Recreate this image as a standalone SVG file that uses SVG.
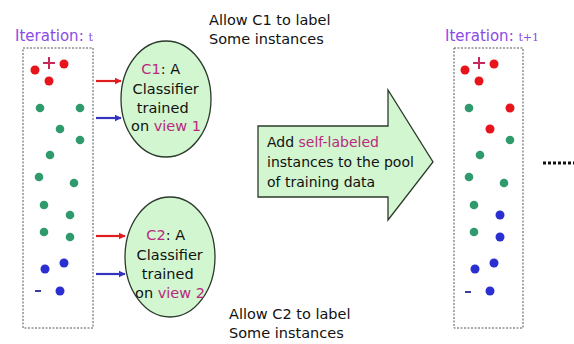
<svg xmlns="http://www.w3.org/2000/svg" width="574" height="344" viewBox="0 0 574 344">
  <defs>
    <style>
      .txt { font-family: "DejaVu Sans", "Liberation Sans", sans-serif; font-size: 14.5px; fill: #111; }
      .txt-sm { font-size: 14px; }
      .iter { font-family: "DejaVu Sans", "Liberation Sans", sans-serif; font-size: 15px; fill: #8a4be6; }
      .iter-small { font-family: "DejaVu Serif", "Liberation Serif", serif; font-size: 11px; }
      .hl { fill: #b8297f; }
      .box { fill: #fff; stroke: #555; stroke-width: 1; stroke-dasharray: 2 1.5; }
      .green-shape { fill: #d2f6cf; stroke: #2b3a2b; stroke-width: 1.3; }
      .r { fill: #e8141c; }
      .g { fill: #2f9a6c; }
      .b { fill: #2b2fd2; }
      .sign { stroke-width: 2; fill: none; }
      .ar-red { stroke: #e01c1c; stroke-width: 2.2; fill: none; }
      .ar-blue { stroke: #3434c0; stroke-width: 2.2; fill: none; }
    </style>
    <marker id="headRed" viewBox="0 0 10 10" refX="9" refY="5" markerWidth="3.2" markerHeight="3.2" orient="auto">
      <path d="M0,0 L10,5 L0,10 z" fill="#e01c1c"/>
    </marker>
    <marker id="headBlue" viewBox="0 0 10 10" refX="9" refY="5" markerWidth="3.2" markerHeight="3.2" orient="auto">
      <path d="M0,0 L10,5 L0,10 z" fill="#3434c0"/>
    </marker>
    <!-- one set of labelled points; reused for both iterations -->
    <g id="commonDots">
      <circle class="r" cx="35" cy="70" r="4.5"/>
      <circle class="r" cx="64" cy="64" r="4.5"/>
      <circle class="r" cx="49" cy="81" r="4.5"/>
      <circle class="g" cx="50" cy="155" r="4.3"/>
      <circle class="g" cx="39" cy="177" r="4.3"/>
      <circle class="g" cx="74" cy="183" r="4.3"/>
      <circle class="g" cx="44" cy="205" r="4.3"/>
      <circle class="g" cx="44" cy="232" r="4.3"/>
      <circle class="b" cx="45" cy="269" r="4.5"/>
      <circle class="b" cx="64" cy="263" r="4.5"/>
      <circle class="b" cx="60" cy="291" r="4.5"/>
    </g>
  </defs>

  <!-- iteration t: labelled and unlabelled points -->
  <g id="iteration-t">
    <text class="iter" x="15" y="41">Iteration: <tspan class="iter-small">t</tspan></text>
    <rect class="box" x="23" y="48" width="70" height="280"/>
    <use href="#commonDots"/>
    <circle class="g" cx="40" cy="108" r="4.3"/>
    <circle class="g" cx="80" cy="108" r="4.3"/>
    <circle class="g" cx="60" cy="129" r="4.3"/>
    <circle class="g" cx="80" cy="140" r="4.3"/>
    <circle class="g" cx="70" cy="215" r="4.3"/>
    <circle class="g" cx="70" cy="237" r="4.3"/>
    <path class="sign" stroke="#c8285a" d="M43,63 H55 M49,57 V69"/>
    <path class="sign" stroke="#3c3c9c" d="M35,291 H41"/>
  </g>

  <!-- classifier trained on the first view -->
  <g id="classifier-c1">
    <ellipse class="green-shape" cx="166" cy="99" rx="45" ry="58"/>
    <text class="txt" text-anchor="middle">
      <tspan x="163" y="74"><tspan class="hl">C1</tspan>: A</tspan>
      <tspan x="168" y="94">Classifier</tspan>
      <tspan x="165" y="113">trained</tspan>
      <tspan x="166" y="131">on <tspan class="hl">view 1</tspan></tspan>
    </text>
  </g>

  <!-- classifier trained on the second view -->
  <g id="classifier-c2">
    <ellipse class="green-shape" cx="170" cy="257" rx="45" ry="60"/>
    <text class="txt" text-anchor="middle">
      <tspan x="168" y="240"><tspan class="hl">C2</tspan>: A</tspan>
      <tspan x="172" y="260">Classifier</tspan>
      <tspan x="170" y="279">trained</tspan>
      <tspan x="170" y="298">on <tspan class="hl">view 2</tspan></tspan>
    </text>
  </g>

  <g id="note-c1">
    <text class="txt"><tspan x="209" y="25">Allow C1 to label</tspan><tspan x="209" y="44">Some instances</tspan></text>
  </g>

  <g id="note-c2">
    <text class="txt"><tspan x="229" y="319">Allow C2 to label</tspan><tspan x="229" y="338">Some instances</tspan></text>
  </g>

  <!-- block arrow: move self-labelled points into the training pool -->
  <g id="add-to-pool">
    <path class="green-shape" d="M258,126 H388 V90 L433,162 L388,220 V197 H258 Z"/>
    <text class="txt txt-sm">
      <tspan x="267" y="147">Add <tspan class="hl">self-labeled</tspan></tspan>
      <tspan x="267" y="167">instances to the pool</tspan>
      <tspan x="267" y="187">of training data</tspan>
    </text>
  </g>

  <!-- iteration t+1: pool grown with newly labelled points -->
  <g id="iteration-t1">
    <text class="iter" x="445" y="41">Iteration: <tspan class="iter-small">t+1</tspan></text>
    <rect class="box" x="454" y="48" width="69" height="280"/>
    <use href="#commonDots" transform="translate(430,0)"/>
    <circle class="g" cx="469" cy="108" r="4.3"/>
    <circle class="r" cx="510" cy="108" r="4.5"/>
    <circle class="r" cx="490" cy="129" r="4.5"/>
    <circle class="g" cx="510" cy="140" r="4.3"/>
    <circle class="b" cx="500" cy="215" r="4.5"/>
    <circle class="b" cx="500" cy="237" r="4.5"/>
    <path class="sign" stroke="#c8285a" d="M473,63 H485 M479,57 V69"/>
    <path class="sign" stroke="#3c3c9c" d="M465,292 H471"/>
  </g>

  <g id="continuation">
    <line x1="543" y1="163" x2="574" y2="163" stroke="#111" stroke-width="3" stroke-dasharray="3 2"/>
  </g>

  <g id="connectors">
    <line class="ar-red" x1="96" y1="81" x2="121" y2="81" marker-end="url(#headRed)"/>
    <line class="ar-blue" x1="96" y1="118" x2="121" y2="118" marker-end="url(#headBlue)"/>
    <line class="ar-red" x1="96" y1="236" x2="125" y2="236" marker-end="url(#headRed)"/>
    <line class="ar-blue" x1="96" y1="274" x2="125" y2="274" marker-end="url(#headBlue)"/>
  </g>
</svg>
